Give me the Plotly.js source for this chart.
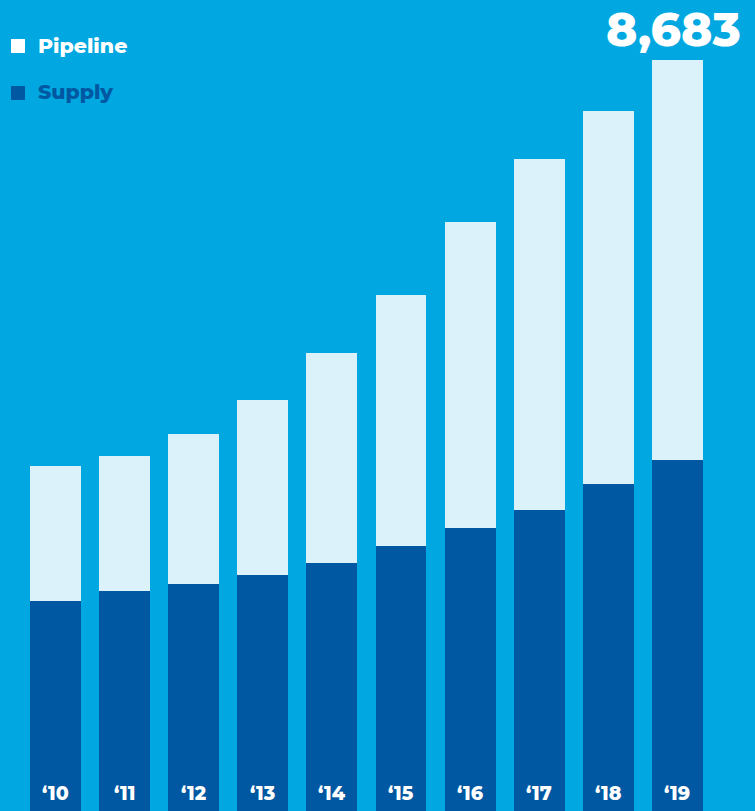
<!DOCTYPE html>
<html>
<head>
<meta charset="utf-8">
<script src="https://cdn.plot.ly/plotly-3.0.1.min.js"></script>
<style>
  html, body { margin: 0; padding: 0; background: #00A7E1; }
  #chart { width: 755px; height: 811px; }
</style>
</head>
<body>
<div id="chart"></div>
<script>
const years = ["‘10", "‘11", "‘12", "‘13", "‘14", "‘15", "‘16", "‘17", "‘18", "‘19"];
const supply = [2428, 2544, 2624, 2729, 2867, 3064, 3272, 3480, 3781, 4058];
const pipeline = [1561, 1560, 1735, 2023, 2428, 2902, 3538, 4058, 4312, 4625];
const seriesNames = ["Pipeline", "Supply"];

const BG = "#00A7E1";
const LIGHT = "#DCF2FB";
const DARK = "#0057A2";
const FONT = "Montserrat, 'Open Sans', Lato, sans-serif";

const totals = supply.map((s, i) => s + pipeline[i]);
const last = years.length - 1;

const traces = [
  { type: "bar", name: seriesNames[1], x: years, y: supply, marker: { color: DARK }, hoverinfo: "none" },
  { type: "bar", name: seriesNames[0], x: years, y: pipeline, marker: { color: LIGHT }, hoverinfo: "none" }
];

const annotations = years.map(y => ({
  x: y, y: 0, xref: "x", yref: "y", text: y, showarrow: false,
  yanchor: "bottom", yshift: 4,
  font: { family: FONT, size: 19, color: "#FFFFFF", weight: 800 }
}));

annotations.push({
  x: years[last], y: totals[last], xref: "x", yref: "y",
  text: totals[last].toLocaleString("en-US"), showarrow: false,
  yanchor: "bottom", yshift: 0, xshift: -4,
  font: { family: FONT, size: 47, color: "#FFFFFF", weight: 800 }
});

annotations.push({
  x: 36, y: 46, xref: "paper", yref: "paper", text: seriesNames[0], showarrow: false,
  xanchor: "left", yanchor: "middle",
  font: { family: FONT, size: 20.5, color: "#FFFFFF", weight: 800 }
});
annotations.push({
  x: 36, y: 92, xref: "paper", yref: "paper", text: seriesNames[1], showarrow: false,
  xanchor: "left", yanchor: "middle",
  font: { family: FONT, size: 20.5, color: DARK, weight: 800 }
});

const W = 755, H = 811;
annotations.forEach(a => {
  if (a.xref === "paper") { a.x = a.x / W; a.y = 1 - a.y / H; }
});

const shapes = [
  { type: "rect", xref: "paper", yref: "paper", x0: 11 / W, x1: 25 / W, y0: 1 - 53 / H, y1: 1 - 39 / H, fillcolor: "#FFFFFF", line: { width: 0 } },
  { type: "rect", xref: "paper", yref: "paper", x0: 11 / W, x1: 25 / W, y0: 1 - 100 / H, y1: 1 - 86 / H, fillcolor: DARK, line: { width: 0 } }
];

const layout = {
  width: W, height: H,
  margin: { l: 0, r: 0, t: 0, b: 0, pad: 0 },
  paper_bgcolor: BG, plot_bgcolor: BG,
  barmode: "stack", bargap: 0.262,
  showlegend: false,
  xaxis: { type: "category", range: [-0.803, 10.123], showticklabels: false, showgrid: false, zeroline: false, showline: false, ticks: "", fixedrange: true },
  yaxis: { range: [0, 9377], showticklabels: false, showgrid: false, zeroline: false, showline: false, ticks: "", fixedrange: true },
  annotations: annotations,
  shapes: shapes
};

Plotly.newPlot("chart", traces, layout, { displayModeBar: false, staticPlot: true });
</script>
</body>
</html>
